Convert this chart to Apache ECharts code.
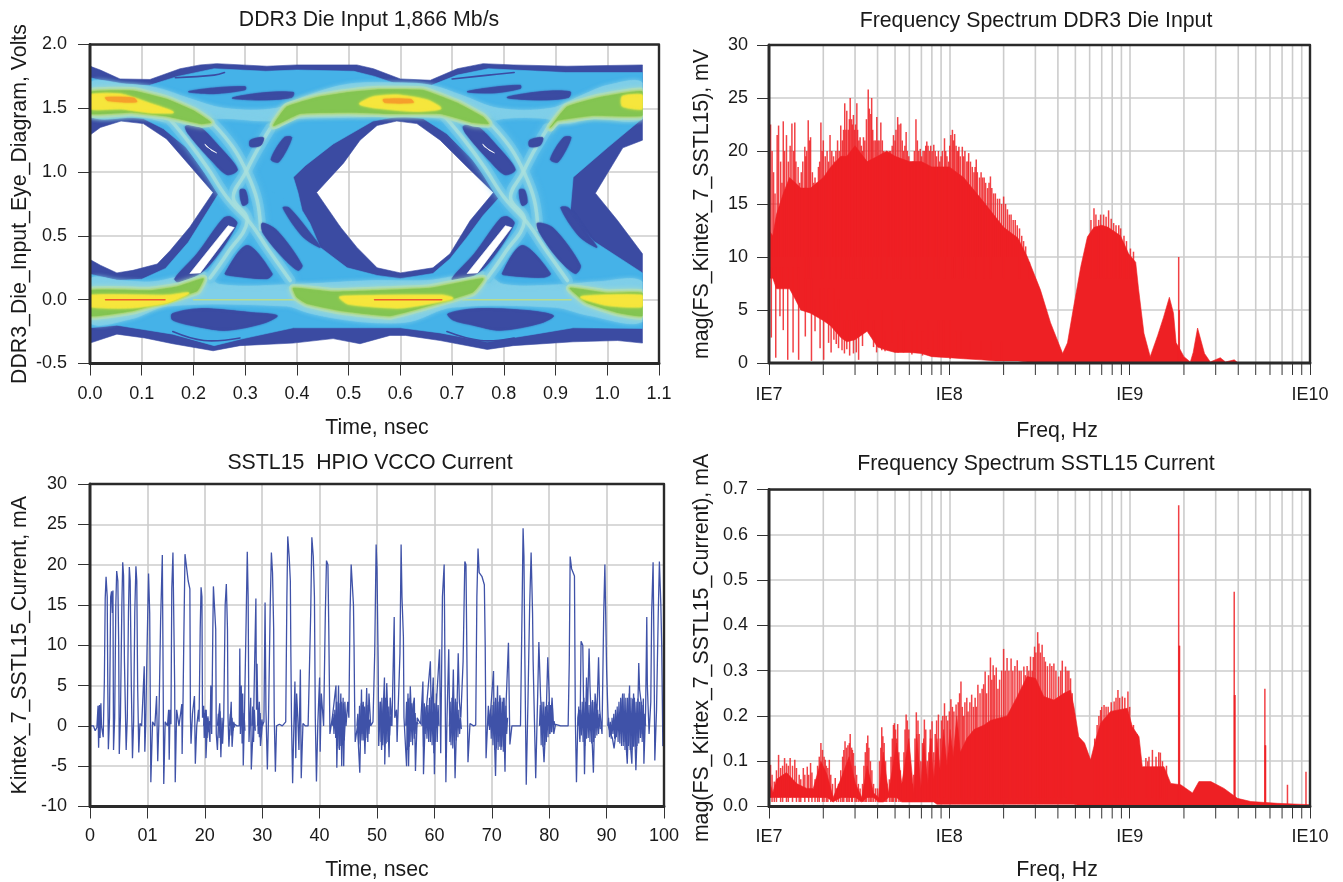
<!DOCTYPE html>
<html><head><meta charset="utf-8">
<style>html,body{margin:0;padding:0;background:#fff}#c{width:1343px;height:882px}</style>
<script src="https://cdn.jsdelivr.net/npm/echarts@6/dist/echarts.min.js"></script>
</head><body><div id="c"></div>
<script>
// ---------- tick labels ----------
const eyeTimeTicks=['0.0','0.1','0.2','0.3','0.4','0.5','0.6','0.7','0.8','0.9','1.0','1.1'];
const traceTimeTicks=['0','01','20','30','40','50','60','70','80','90','100'];
const decadeLabels={7:'IE7',8:'IE8',9:'IE9',10:'IE10'};
const minorFreqHz=[2e7,3e7,4e7,5e7,6e7,7e7,8e7,9e7,2e8,3e8,4e8,5e8,6e8,7e8,8e8,9e8,2e9,3e9,4e9,5e9,6e9,7e9,8e9,9e9];

// ---------- eye diagram regions: [time ns, volts] ----------
const eyeDarkOuter=[[0,1.83],[.02,1.8],[.058,1.73],[.116,1.726],[.174,1.81],[.213,1.84],[.245,1.85],[.342,1.83],[.40,1.84],[.516,1.84],[.548,1.81],[.6,1.73],[.658,1.72],[.71,1.81],[.76,1.85],[.818,1.84],[.922,1.83],[1.068,1.84],[1.068,1.25],[1.03,1.19],[.977,.835],[1.02,.62],[1.068,.36],[1.068,-.34],[1.02,-.32],[.934,-.33],[.818,-.36],[.768,-.39],[.677,-.32],[.61,-.28],[.58,-.28],[.522,-.345],[.47,-.305],[.393,-.34],[.29,-.36],[.238,-.40],[.16,-.345],[.106,-.30],[.052,-.27],[0,-.34],[0,.315],[.02,.27],[.052,.21],[.083,.23],[.13,.28],[.155,.385],[.193,.57],[.238,.84],[.193,1.05],[.148,1.26],[.103,1.38],[.06,1.40],[.02,1.35],[0,1.29]];
const eyeCenterHole=[[.438,.84],[.49,1.07],[.522,1.25],[.555,1.365],[.593,1.40],[.632,1.38],[.677,1.25],[.729,1.04],[.78,.84],[.735,.62],[.696,.36],[.663,.25],[.6,.21],[.555,.25],[.516,.41],[.484,.57]];
const eyeCyanOuter=[[0,1.74],[.06,1.68],[.115,1.68],[.17,1.75],[.24,1.81],[.34,1.79],[.40,1.80],[.51,1.79],[.55,1.75],[.6,1.68],[.66,1.68],[.71,1.76],[.77,1.81],[.82,1.80],[.92,1.78],[1.068,1.78],[1.068,1.42],[1.0,1.19],[.934,.96],[.928,.675],[.973,.46],[1.068,.21],[1.068,-.225],[.934,-.22],[.86,-.27],[.768,-.33],[.677,-.26],[.6,-.22],[.52,-.22],[.393,-.22],[.29,-.31],[.24,-.36],[.16,-.27],[.052,-.2],[0,-.22],[0,.2],[.052,.15],[.1,.16],[.146,.245],[.19,.45],[.25,.84],[.187,1.19],[.142,1.34],[.103,1.42],[.058,1.44],[0,1.46]];
const eyeCyanHole=[[.402,.84],[.393,.96],[.416,1.05],[.47,1.22],[.547,1.40],[.6,1.44],[.644,1.42],[.69,1.30],[.741,1.09],[.80,.84],[.76,.66],[.729,.49],[.696,.32],[.663,.205],[.6,.165],[.555,.19],[.497,.25],[.445,.41],[.425,.6],[.41,.7]];
const eyeLightTop=[[0,1.70],[.07,1.69],[.13,1.66],[.19,1.58],[.26,1.50],[.36,1.50],[.42,1.60],[.5,1.69],[.6,1.70],[.66,1.68],[.72,1.60],[.79,1.50],[.89,1.50],[.95,1.6],[1.0,1.68],[1.068,1.70],[1.068,1.42],[.97,1.42],[.92,1.38],[.88,1.42],[.8,1.42],[.74,1.36],[.68,1.42],[.6,1.44],[.5,1.43],[.4,1.42],[.34,1.40],[.25,1.42],[.18,1.37],[.1,1.43],[0,1.44]];
const eyeLightBottom=[[0,.16],[.06,.15],[.12,.14],[.17,.18],[.22,.22],[.25,.12],[.4,.12],[.45,.13],[.55,.15],[.65,.15],[.7,.18],[.76,.22],[.8,.12],[.92,.12],[.98,.14],[1.068,.14],[1.068,-.17],[.96,-.12],[.9,-.06],[.7,-.06],[.62,-.17],[.55,-.18],[.48,-.15],[.42,-.1],[.38,-.05],[.15,-.05],[.08,-.15],[0,-.18]];
const ridgeA=[[.149,1.44],[.188,1.25],[.226,1.04],[.265,.80],[.31,.6],[.342,.41],[.387,.15]];
const ridgeB=[[.238,1.38],[.277,1.19],[.304,.99],[.323,.78],[.33,.55]];
const ridgeC=[[.348,1.34],[.323,1.17],[.3,.99],[.277,.8],[.304,.62],[.265,.36],[.232,.17]];
const ridgeD=[[.685,1.44],[.724,1.25],[.762,1.04],[.801,.80],[.846,.6],[.878,.41],[.923,.15]];
const ridgeE=[[.774,1.38],[.813,1.19],[.84,.99],[.859,.78],[.866,.55]];
const ridgeF=[[.884,1.34],[.859,1.17],[.836,.99],[.813,.8],[.84,.62],[.801,.36],[.768,.17]];
const islandTopA=[[.19,1.63],[.24,1.66],[.30,1.67],[.30,1.645],[.24,1.615]];
const islandTopB=[[.275,1.58],[.33,1.62],[.393,1.625],[.39,1.585],[.33,1.565]];
const islandTopC=[[.729,1.63],[.78,1.665],[.832,1.68],[.832,1.655],[.78,1.62]];
const islandTopD=[[.806,1.585],[.87,1.63],[.928,1.63],[.925,1.585],[.87,1.565]];
const islandDiagA=[[.185,1.36],[.21,1.36],[.25,1.2],[.285,1.02],[.265,.98],[.235,1.09],[.19,1.3]];
const islandDiagB=[[.722,1.36],[.748,1.36],[.788,1.2],[.822,1.02],[.802,.98],[.772,1.09],[.727,1.3]];
const islandSlitA=[[.164,.165],[.207,.36],[.257,.635],[.271,.65],[.284,.595],[.226,.25],[.174,.135]];
const islandSlitB=[[.70,.165],[.743,.36],[.793,.635],[.807,.65],[.82,.595],[.762,.25],[.71,.135]];
const islandTriA=[[.261,.205],[.304,.425],[.352,.205],[.342,.165],[.27,.19]];
const islandTriB=[[.797,.205],[.836,.425],[.89,.205],[.876,.175],[.81,.19]];
const islandLowerA=[[.333,.6],[.362,.54],[.41,.27],[.402,.23],[.373,.33],[.335,.52]];
const islandLowerB=[[.865,.6],[.896,.56],[.948,.27],[.938,.205],[.903,.33],[.87,.52]];
const islandBelowA=[[.159,-.11],[.213,-.07],[.31,-.10],[.362,-.125],[.335,-.185],[.265,-.24],[.213,-.215],[.16,-.16]];
const islandBelowB=[[.692,-.11],[.748,-.07],[.845,-.085],[.896,-.125],[.87,-.185],[.793,-.24],[.741,-.2],[.702,-.16]];
const islandCrossA=[[.35,1.1],[.375,1.27],[.39,1.27],[.365,1.08]];
const islandCrossB=[[.89,1.1],[.915,1.27],[.93,1.27],[.905,1.08]];
const islandSideA=[[.373,.72],[.385,.72],[.43,.5],[.445,.41],[.41,.5]];
const islandSideB=[[.91,.72],[.925,.72],[.965,.5],[.98,.41],[.945,.5]];
const blobA=[[.29,.86],[.30,.86],[.305,.76],[.295,.74]];
const blobB=[[.83,.86],[.84,.86],[.845,.76],[.835,.74]];
const blobC=[[.31,1.25],[.335,1.27],[.33,1.21],[.31,1.2]];
const blobD=[[.85,1.25],[.875,1.27],[.87,1.21],[.85,1.2]];
const greenTopA=[[0,1.625],[.083,1.635],[.148,1.57],[.2,1.48],[.233,1.39],[.215,1.38],[.148,1.44],[.083,1.47],[0,1.46]];
const greenTopB=[[.355,1.365],[.38,1.51],[.44,1.585],[.503,1.625],[.56,1.645],[.644,1.64],[.71,1.54],[.76,1.43],[.77,1.38],[.74,1.39],[.677,1.46],[.58,1.46],[.5,1.47],[.406,1.46]];
const greenTopC=[[.89,1.35],[.922,1.51],[.986,1.585],[1.068,1.63],[1.068,1.445],[.973,1.445],[.903,1.405]];
const greenLowA=[[0,.07],[.116,.07],[.168,.1],[.219,.165],[.207,.07],[.148,-.006],[.083,-.085],[0,-.125]];
const greenLowB=[[.393,.09],[.47,.06],[.55,.07],[.658,.09],[.76,.165],[.74,.06],[.677,-.02],[.58,-.125],[.484,-.085],[.42,-.03],[.4,.02]];
const greenLowC=[[.928,.09],[1.0,.05],[1.068,.05],[1.068,-.125],[1.02,-.1],[.96,-.02]];
const yellowTopA=[[0,1.60],[.06,1.606],[.115,1.535],[.16,1.47],[.115,1.47],[.06,1.5],[0,1.5]];
const yellowTopB=[[.522,1.535],[.547,1.585],[.593,1.6],[.652,1.56],[.677,1.5],[.632,1.48],[.547,1.51]];
const yellowTopC=[[1.03,1.59],[1.068,1.6],[1.068,1.5],[1.03,1.52]];
const yellowLowA=[[0,.03],[.15,.03],[.19,.05],[.15,-.02],[.08,-.06],[0,-.05]];
const yellowLowB=[[.484,.02],[.6,.03],[.68,.03],[.7,.01],[.6,-.06],[.5,-.03]];
const yellowLowC=[[.95,.02],[1.068,.03],[1.068,-.05],[1.0,-.04]];
const orangeTopA=[[.03,1.585],[.085,1.58],[.09,1.55],[.035,1.56]];
const orangeTopB=[[.567,1.57],[.62,1.57],[.625,1.545],[.57,1.545]];
const redLineA=[[.03,0],[.145,0]];
const redLineB=[[.55,0],[.68,0]];
const faintLineA=[[.2,0],[.4,0]];
const faintLineB=[[.72,0],[.93,0]];
const streakA=[[.16,-.25],[.22,-.32],[.29,-.3]];
const streakB=[[.69,-.25],[.755,-.32],[.82,-.3]];
const streakC=[[.165,1.74],[.24,1.76],[.26,1.78]];
const streakD=[[.7,1.73],[.77,1.76],[.82,1.78]];
const slitA=[[.193,.205],[.213,.21],[.279,.565],[.267,.58]];
const slitB=[[.729,.205],[.749,.21],[.815,.565],[.803,.58]];
const slitC=[[.225,1.2],[.245,1.15],[.235,1.17],[.222,1.22]];
const slitD=[[.762,1.2],[.782,1.15],[.772,1.17],[.759,1.22]];

// ---------- current trace: [time ns, mA] ----------
const currentTrace=[[0,0],[.6,0],[.9,-.6],[1.2,-.2],[1.4,2.5],[1.5,-2.7],[1.65,2.6],[1.75,-1.5],[1.9,2.8],[2,0],[2.3,-1.4],[2.5,5.5],[2.65,15.8],[2.8,18.5],[3,16],[3.1,5],[3.2,-2.9],[3.4,1],[3.6,16],[3.75,16.7],[3.9,14],[4,16.8],[4.1,-3],[4.3,1],[4.5,15],[4.65,19.2],[4.85,18],[5,10],[5.1,-3.5],[5.3,1],[5.55,15],[5.7,20.3],[5.85,18.6],[6,8],[6.3,-3],[6.5,1],[6.7,14],[6.85,19.7],[7,18],[7.2,5],[7.4,-4],[7.6,.5],[7.8,14],[8,19.8],[8.15,18],[8.3,5],[8.5,-3.3],[8.7,.3],[9,0],[9.3,0],[9.45,7.4],[9.55,-3.2],[9.7,0],[9.95,10],[10.2,18.9],[10.4,14],[10.6,-7],[10.9,.5],[11.3,0],[11.6,3.7],[11.8,-4.4],[12,.3],[12.3,13],[12.6,21.2],[12.75,5],[12.85,-7.2],[13.1,.5],[13.5,0],[13.7,2],[13.8,-4.2],[13.95,2],[14.1,.2],[14.25,17],[14.45,21.5],[14.7,21.5],[14.75,5],[14.85,-7],[15.1,2],[15.5,0],[15.8,.2],[16,2.7],[16.05,-3.5],[16.2,2.7],[16.35,11],[16.55,21.3],[16.85,21.3],[17.1,18],[17.4,17],[17.5,1],[17.6,-2.2],[17.85,1.5],[18.2,3.7],[18.35,-4.7],[18.6,0],[18.9,2],[19,.5],[19.2,12],[19.35,17.2],[19.5,16],[19.6,1],[19.8,2.5],[19.9,-1.5],[20.1,2],[20.2,-4],[20.5,1],[20.9,-2],[21.05,5],[21.2,-1],[21.4,12],[21.5,17.3],[21.8,17.3],[21.9,12],[22,-1],[22.2,-3],[22.4,1],[22.6,2.8],[22.8,-3.9],[23,1],[23.1,-2.2],[23.3,1],[23.55,15],[23.75,17.6],[23.95,12],[24.05,1],[24.2,-2.6],[24.6,3],[24.75,-2.6],[25,.3],[25.3,.2],[25.6,0],[26,0],[26.1,9.6],[26.2,-1],[26.35,5],[26.5,-2.2],[26.6,4],[26.7,-4.9],[26.9,1],[27.2,13],[27.4,21.6],[27.55,16],[27.7,-2],[28,3.5],[28.1,-5.4],[28.5,1],[28.9,15.8],[29,2],[29.1,7.7],[29.3,-1],[29.5,3],[29.7,-2.5],[30,0],[30.3,.5],[30.5,15.3],[30.65,2],[30.9,-5.4],[31.1,1],[31.4,15],[31.6,21.5],[31.8,19],[32,12],[32.1,1],[32.3,-5.7],[32.5,0],[33,.2],[33.5,0],[34.1,.5],[34.3,16],[34.45,23.5],[34.7,21],[34.9,18],[35,8.5],[35.1,1],[35.3,-7.1],[35.55,1],[35.7,5.5],[35.85,-4],[36,4],[36.2,1],[36.4,-3],[36.65,7],[36.8,-6.5],[37.1,.3],[37.5,0],[38,0],[38.3,0],[38.45,14],[38.65,23.4],[38.9,21],[39.1,16],[39.25,1],[39.45,-6.9],[39.7,.5],[40,6],[40.1,-3.2],[40.3,4],[40.45,2.5],[40.7,0],[41,14],[41.2,20.5],[41.45,20],[41.6,12],[41.8,-1],[42.1,.5],[42.3,1.5],[42.85,5],[43,-5.2],[43.3,5],[43.45,-3],[43.7,4],[43.85,-5],[44.1,3.5],[44.2,-5],[44.4,3],[44.6,0],[44.9,3],[45.1,1],[45.3,14],[45.5,20],[45.8,20],[45.9,15],[46,10],[46.1,3],[46.2,-2],[46.6,0],[47,-5.8],[47.3,4.5],[47.4,-1],[47.6,3],[47.9,-3.5],[48.2,4.7],[48.4,-2],[48.6,4],[48.9,0],[49.3,.5],[49.6,9],[49.85,22.5],[50,19.5],[50.2,8],[50.3,-2.5],[50.6,3],[50.8,-3],[51.3,6],[51.35,-4.8],[51.7,5.3],[52.1,-3.9],[52.3,3.5],[52.6,0],[52.9,0],[53,13.5],[53.1,1],[53.4,2],[53.5,-2],[54,9],[54.2,22.5],[54.35,16],[54.6,11],[54.7,1],[55.15,-5],[55.4,4],[55.5,-5],[55.8,4.9],[56,1],[56.5,3.5],[56.7,-5.6],[57,1],[57.6,.2],[58,5.5],[58.1,-6],[58.4,.5],[59.3,8],[59.45,1],[59.8,6],[60,-6],[60.2,1],[60.9,9.5],[61.1,-3.4],[61.4,16],[61.7,20],[61.9,20],[62,-7],[62.2,1],[62.5,9.5],[62.7,-2],[63.1,1],[63.3,7],[63.6,-6.5],[63.9,1],[64.15,9],[64.35,3],[64.6,1],[65,8],[65.3,20.4],[65.5,20],[65.85,-4.5],[66.2,.3],[66.8,0],[67.2,.1],[67.4,16],[67.6,22],[67.8,19],[68.3,18.5],[68.7,17.5],[68.85,10],[69,-4],[69.4,2.5],[69.6,0],[70.3,6.8],[70.4,0],[70.65,-6.2],[71,5],[71.1,-2],[71.4,3.8],[71.6,-3],[72,3.5],[72.3,-5.7],[72.5,3],[72.9,10.3],[73.15,-2.3],[73.5,0],[74,0],[75,0],[75.3,16],[75.45,24.5],[75.6,21],[75.75,9],[76,-7.3],[76.3,3],[76.6,15],[76.85,21.5],[77.1,14],[77.2,8],[77.65,-6.5],[78,4],[78.2,10.4],[78.5,3.5],[79.1,-4.5],[79.5,2],[79.75,8.5],[80,4],[80.1,-1],[80.5,3.5],[80.8,-1],[81.1,.2],[82,0],[83.3,0],[83.5,8],[83.65,21],[83.9,19.5],[84.4,18.6],[84.55,1],[84.75,-7],[85,1],[85.2,2],[85.35,-2],[85.55,10.5],[85.85,10],[86.15,-6],[86.5,6],[86.65,1],[86.95,9.6],[87.1,5],[87.7,-5.8],[88,4],[88.3,1],[88.6,8.5],[88.8,2],[89.2,-1],[89.5,14],[89.7,20],[89.9,20],[90,7],[90.3,0],[90.7,-1],[91,-1.5],[91.3,-2.8],[91.6,-1],[92,1.5],[92.3,-1],[92.8,4],[93,-2],[93.1,1],[93.6,-4.7],[94,5],[94.1,-2],[94.4,-4.7],[94.7,4],[94.95,4.1],[95.1,-5.5],[95.4,.5],[95.6,7.8],[95.75,4.5],[96,3],[96.2,-1],[96.4,3.4],[96.5,-4.7],[96.8,2],[97,13.5],[97.1,5],[97.4,-1],[97.7,3],[97.85,14],[98.1,20.3],[98.25,10],[98.4,-4.3],[98.7,2],[99,14],[99.2,20.4],[99.45,15],[99.6,10],[99.8,-2.5],[100,-2.3]];
// fast ringing around zero between pulses; null separates bursts
const currentRipple=[[19.8,0],[19.95,1.6],[20.1,-1],[20.25,2],[20.4,-1.5],[20.55,1.2],[20.7,-.8],[20.85,.6],[20.9,null],[22.2,0],[22.35,1.5],[22.5,-1.5],[22.65,1.8],[22.8,-.6],[22.9,null],[24.3,0],[24.45,1.5],[24.6,-1.2],[24.75,1],[24.9,-.6],[25.05,.5],[25.2,-.2],[25.3,null],[26.4,0],[26.55,2.2],[26.7,-1.6],[26.85,1.6],[27,-.6],[27.1,null],[28.2,0],[28.35,2.4],[28.5,-2],[28.65,2],[28.8,-.6],[28.9,null],[29.2,0],[29.35,2.2],[29.5,-1.4],[29.65,1.6],[29.8,-1],[29.95,.8],[30.1,0],[30.2,null],[42.2,0],[42.35,1.5],[42.5,-1],[42.65,2],[42.8,-1.5],[42.95,3],[43.1,-2.5],[43.25,3],[43.4,-2.8],[43.55,2.8],[43.7,-2.5],[43.85,3],[44,-2.4],[44.15,2.8],[44.3,-1.8],[44.5,1],[44.6,null],[46.5,0],[46.65,1.5],[46.8,-2.2],[46.95,2.5],[47.1,-2.4],[47.25,2.8],[47.4,-1.8],[47.55,2.6],[47.7,-1.8],[47.85,2.4],[48,-1.8],[48.15,3],[48.3,-1.5],[48.45,2.6],[48.6,-1],[48.75,.8],[48.9,null],[50.4,0],[50.55,3],[50.7,-2],[50.85,3.5],[51,-2.4],[51.15,3],[51.3,-2.6],[51.45,3.5],[51.6,-2.2],[51.75,3],[51.9,-2],[52.05,2.4],[52.2,-1.2],[52.35,1.2],[52.5,0],[52.6,null],[55,0],[55.15,3],[55.3,-3],[55.45,3.4],[55.6,-2.6],[55.75,3.5],[55.9,-2],[56.05,2.8],[56.2,-2.4],[56.35,3],[56.5,-1.6],[56.65,1.6],[56.8,-1],[56.95,.5],[57.2,.2],[57.3,null],[57.8,0],[57.95,3],[58.1,-2.6],[58.25,2.8],[58.4,-1],[58.55,2.4],[58.7,-1.6],[58.85,2.6],[59,-2],[59.15,3.5],[59.3,-2],[59.45,3.2],[59.6,-2.4],[59.75,3.6],[59.9,-3.4],[60.05,2.8],[60.2,-2],[60.35,4],[60.5,-2],[60.65,2.6],[60.8,0],[60.9,null],[62.6,0],[62.75,3],[62.9,-2.4],[63.05,3.5],[63.2,-2.8],[63.35,3],[63.5,-2.6],[63.65,3.4],[63.8,-1.8],[63.95,3],[64.1,-1.4],[64.25,2],[64.4,-1],[64.55,1],[64.7,-.4],[64.8,null],[69.3,0],[69.45,1.5],[69.6,-.5],[69.75,2],[69.9,-1.6],[70.05,2.6],[70.2,-2.4],[70.35,3],[70.5,-3],[70.65,3.5],[70.8,-2.8],[70.95,3.4],[71.1,-3],[71.25,3],[71.4,-2.6],[71.55,3.5],[71.7,-2.6],[71.85,3],[72,-3.2],[72.15,3.5],[72.3,-3],[72.45,2.5],[72.6,-1],[72.75,1],[72.85,null],[78.3,0],[78.45,2.6],[78.6,-2.4],[78.75,3],[78.9,-2.6],[79.05,3],[79.2,-2.4],[79.35,2.4],[79.5,-2],[79.65,2.6],[79.8,-1.4],[79.95,3],[80.1,-1],[80.25,2.6],[80.4,-.8],[80.55,2.6],[80.7,-.8],[80.85,.6],[81,.1],[81.1,null],[85,0],[85.15,2.4],[85.3,-1.6],[85.45,2],[85.6,-1.2],[85.75,3],[85.9,-2],[86.05,3.5],[86.2,-2.5],[86.35,3],[86.5,-1.6],[86.65,3],[86.8,-1.5],[86.95,2.6],[87.1,-2],[87.25,3],[87.4,-2.2],[87.55,3.2],[87.7,-2],[87.85,3],[88,-1.5],[88.15,2.6],[88.3,-1.2],[88.45,2],[88.6,-1],[88.75,1.5],[88.9,-.4],[89,null],[90.2,0],[90.35,1],[90.5,-1.4],[90.65,.5],[90.8,-1.6],[90.95,1],[91.1,-1],[91.25,1.5],[91.4,-1.6],[91.55,2],[91.7,-1.4],[91.85,2.4],[92,-2],[92.15,3],[92.3,-2.2],[92.45,3.5],[92.6,-2.5],[92.75,3.4],[92.9,-2.5],[93.05,4],[93.2,-3],[93.35,3.5],[93.5,-3],[93.65,3.5],[93.8,-2.5],[93.95,4],[94.1,-3],[94.25,3.5],[94.4,-3],[94.55,3.4],[94.7,-2.6],[94.85,3.5],[95,-2.6],[95.15,3],[95.3,-2.5],[95.45,3.4],[95.6,-2.2],[95.75,3],[95.9,-1.5],[96.05,3],[96.2,-2],[96.35,2.6],[96.5,-1.5],[96.65,1.5],[96.8,0]];

// ---------- voltage spectrum (MHz, mV) ----------
const dieBodyMHz=[10,10.5,11,12,13,14,15,17,20,22,25,27,30,35,40,45,50,60,70,80,100,120,150,180,200,240,271,320,364,425,452,489,536,583,634,700,760,890,987,1080,1120,1200,1300,1430,1540,1660,1750,1810,1900,2000,2170,2250,2380,2600,2800,3180,3400,3800,4000];
const dieBodyHigh=[12.5,12,14,16,17.5,17,16.5,16.5,17.5,18.5,19.5,19.5,20.5,19,19.5,20,19.5,19,19,18.5,18.5,17.5,15.5,13.8,12.8,11.8,10,6.9,3.8,.9,1.9,5.3,9.1,11.9,12.8,13,12.8,12,10.3,9.5,7,2.8,.6,2.6,4.3,6.2,4.7,1.9,1.3,.6,.1,1,3.3,.9,.1,.5,.1,.3,0];
const dieBodyLow=[8,8,7,7,7,6,5,4.7,4,3.5,2.4,2,2.2,3,1.5,1.2,1,1,.9,.6,.5,.4,.3,.2,.2,.2,.1,.1,.1,0,0,0,0,0,0,0,0,0,0,0,0,0,0,0,0,0,0,0,0,0,0,0,0,0,0,0,0,0,0];
// [MHz, low, high] peaks standing above the solid body
const dieSpikes=[[10.2,10,22.5],[10.4,10,20],[11.1,10,21.5],[11.3,10,22.4],[12,10,22.8],[12.5,10,21.5],[13.4,10,22.6],[13.9,10,22.7],[14.5,8,18.5],[15.8,8,20.4],[16.5,8,22.9],[17,8,21.3],[19.4,8,22.7],[20,8,21],[21.8,8,21.5],[23.5,8,20],[25,8,22.4],[26.3,8,24.5],[27,8,23.8],[28.2,8,25],[29.4,8,23.4],[30.7,8,24.5],[32,8,21.3],[33.4,8,21.3],[35.5,8,25.8],[37.1,8,25],[39.6,8,23.2],[41.7,8,22.7],[45,8,20],[49,8,21.5],[51.7,8,23.2],[53.8,8,22.6],[57.6,8,21.8],[60.7,8,18.8],[65.3,8,23],[69,8,20.2],[75,8,20.9],[82,8,20.6],[87,8,20],[94,8,21.2],[104,8,22],[107,8,21.6],[113,8,20.4],[118,8,20.4],[128,8,19.8],[141,8,19.2],[156,8,17.5],[169,8,17.6],[200,8,15.7],[245,8,12.7],[634,8,14.6],[673,8,13.5],[717,8,14],[764,8,14.4],[815,8,13.2],[891,8,12.7],[1870,0,10],[1885,0,5]];
// in-between peaks, read along the top of the spectrum
const dieFill=[[10.6,10,18],[10.8,10,16],[11.6,10,19],[11.8,10,17],[12.2,10,20],[12.8,10,19],[13.1,10,20.5],[13.7,10,20],[14.1,10,19],[14.8,10,17],[15.1,10,18],[15.4,10,19],[16,10,19.5],[16.2,10,20],[16.8,10,21],[17.4,10,18],[17.7,10,17],[18,10,17.5],[18.4,10,17],[18.8,10,18.5],[19.1,10,19],[19.7,10,20],[20.5,10,19.5],[21,10,20],[21.4,10,19],[22.3,10,20],[22.8,10,19.5],[23.1,10,19],[24,10,21],[24.5,10,20],[25.5,10,21],[25.9,10,22],[26.7,10,22],[27.5,10,22],[27.9,10,23],[28.7,10,23],[29,10,22.5],[29.8,10,22],[30.2,10,22.5],[31,10,22],[31.5,10,21],[32.5,10,20.5],[33,10,20],[34,10,21],[34.7,10,23],[36,10,24],[36.7,10,23.5],[37.6,10,22],[38.2,10,21],[38.9,10,21],[40.2,10,21],[40.8,10,21],[42.5,10,21],[43.3,10,20],[44,10,19.5],[45.8,10,19.5],[46.5,10,20],[47.3,10,20],[48.2,10,20.5],[50,10,21],[50.6,10,22],[52.6,10,22.5],[54.8,10,21],[55.8,10,20],[56.7,10,20.5],[58.5,10,20],[59.6,10,19.5],[61.8,10,18.5],[63,10,19],[64,10,20],[66.5,10,21],[67.7,10,20],[70.2,10,19.5],[71.5,10,20],[72.8,10,20],[74,10,20.5],[76.2,10,20.5],[77.5,10,20],[78.8,10,20.5],[80.3,10,20],[83.5,10,20],[85,10,19.5],[88.5,10,19],[90,10,19.5],[91.5,10,20],[95.5,10,20],[97,10,19.5],[99,10,19],[100.5,10,20.5],[102,10,21.5],[105.5,10,21],[109,10,20.5],[110.5,10,20],[112,10,20],[115,10,19.5],[120,10,19.5],[122,10,20],[125,10,19],[127,10,19],[131,10,19],[134,10,18.5],[137,10,18],[139,10,18.5],[143,10,18],[147,10,17.5],[150,10,18],[153,10,17.5],[159,10,17],[163,10,16.5],[166,10,17],[172,10,16.5],[176,10,16],[180,10,16],[185,10,15.5],[190,10,15.5],[195,10,15],[205,10,15],[210,10,14.5],[215,10,14],[220,10,14],[226,10,13.5],[232,10,13.5],[238,10,13],[252,10,12],[258,10,11.5],[265,10,11],[278,8,9.5],[610,8,13.5],[650,8,14],[690,8,14],[740,8,13.8],[790,8,13.6],[840,8,13],[870,8,13],[930,8,12],[960,8,11.5],[1010,8,10.8],[1050,8,10.5]];
// dips reaching below the solid body
const dieDips=[[10.3,2.4,9],[10.9,.5,9],[11.5,4.4,9],[12,3.1,9],[12.7,.3,9],[13.6,1,9],[14.6,.3,9],[15.9,2.5,8],[17.2,.2,8],[18,3,6],[19.2,1.4,7],[20.1,.3,7],[21.4,1.9,7],[22.1,1,5],[22.9,2.2,7],[23.6,1.8,5],[24.3,1.4,6],[25.4,1.2,5],[26.2,.9,4],[27,1.3,5],[28,.7,4],[29.4,.9,5],[30.5,1,4],[31.4,.3,5],[33,1.6,4],[35.5,3.1,6],[38,1.5,4],[39.5,1,3],[42.2,1.2,5],[44,1.1,3],[48,1.9,5],[52,1,3],[55.7,1,4],[57.6,1.2,5],[62,.8,3],[66,1,4],[71,.7,3],[76,1.4,4],[81,.7,3],[87,1.2,4],[93,.9,4],[101,.4,4],[109,.6,3],[116,.8,3],[130,.4,2],[150,.4,2],[170,.3,2],[195,.2,2]];

// ---------- current spectrum (MHz, mA) ----------
const sstlBodyMHz=[10,10.5,11,12.5,14.3,16.2,17.6,19.4,21,22.7,25,27.8,30.2,32.7,35,38,40.5,43,46,51,54.5,59.6,63.5,66,69.5,72,76,78.4,82,85.4,89,93,97,101,105,110,115,125,137,156,169,209,236,270,301,334,380,432,470,491,522,562,607,647,690,784,970,1035,1127,1175,1309,1550,1690,1920,2230,2420,2820,3335,3960,4700,6610,10000];
const sstlBodyHigh=[.06,.03,.06,.075,.05,.04,.04,.10,.07,.02,.06,.11,.05,.02,.09,.03,.02,.12,.03,.14,.05,.15,.03,.16,.04,.15,.05,.15,.06,.15,.08,.17,.09,.17,.11,.2,.12,.15,.17,.18,.19,.2,.24,.287,.283,.243,.235,.25,.257,.22,.154,.14,.103,.147,.184,.21,.217,.176,.154,.088,.088,.088,.051,.048,.03,.055,.055,.04,.018,.011,.007,.004];
const sstlBodyLow=[.02,.02,.02,.02,.02,.02,.02,.02,.02,.01,.02,.02,.02,.01,.02,.02,.01,.01,.02,.02,.01,.01,.01,.01,.01,.01,.01,.01,.01,.005,.005,.005,.005,.005,.005,.005,.005,.005,.005,.005,.005,.005,.005,.005,.005,.005,.005,.005,.005,.005,.003,.003,.003,.003,.003,.003,.002,.002,.002,.002,.002,.002,.001,.001,.001,.001,.001,0,0,0,0,0];
const sstlSpikes=[[10.2,.02,.092],[11.3,.02,.114],[12.2,.02,.107],[13.1,.02,.107],[13.9,.02,.103],[15.5,.02,.085],[16.3,.02,.088],[17,.02,.096],[19.4,.02,.14],[20.5,.02,.103],[21.6,.02,.103],[23.3,.02,.063],[26.4,.02,.144],[28.2,.02,.16],[29.4,.02,.118],[35.3,.02,.157],[42.2,.02,.175],[49.6,.02,.184],[51.7,.02,.182],[57.6,.02,.203],[65.6,.02,.208],[72.7,.02,.192],[80.2,.02,.188],[87,.02,.203],[94,.02,.228],[102,.02,.237],[109,.02,.225],[116,.02,.276],[125,.02,.24],[133,.02,.247],[144,.02,.269],[158,.02,.298],[169,.02,.329],[175,.02,.312],[182,.02,.307],[200,.02,.348],[209,.02,.328],[220,.02,.327],[238,.02,.323],[259,.02,.309],[282,.02,.331],[297,.02,.353],[309,.02,.385],[327,.02,.357],[341,.02,.32],[361,.02,.316],[380,.02,.316],[404,.02,.287],[423,.02,.322],[441,.02,.309],[470,.02,.283],[690,.02,.213],[721,.02,.224],[820,.02,.232],[861,.02,.257],[911,.02,.243],[978,.02,.254],[1230,.02,.107],[1337,.02,.125],[1480,.02,.119],[1870,0,.665],[1880,0,.355],[1890,0,.355],[3800,0,.474],[3815,0,.246],[3835,0,.246],[5620,0,.26],[5640,0,.135],[5670,0,.135],[7500,0,.048],[9500,0,.077]];
const sstlFill=[[10.4,.01,.07],[10.7,.01,.055],[11,.01,.08],[11.6,.01,.085],[11.9,.01,.09],[12.5,.01,.095],[12.8,.01,.09],[13.5,.01,.09],[14.2,.01,.085],[14.7,.01,.07],[15,.01,.06],[15.8,.01,.07],[16.6,.01,.07],[17.3,.01,.075],[18,.01,.06],[18.6,.01,.09],[19,.01,.11],[19.8,.01,.125],[20.2,.01,.11],[20.8,.01,.09],[21.2,.01,.085],[22,.01,.07],[22.5,.01,.05],[23.7,.01,.04],[24.3,.01,.05],[25,.01,.08],[25.6,.01,.11],[26,.01,.125],[26.9,.01,.13],[27.4,.01,.135],[27.9,.01,.14],[28.7,.01,.13],[29,.01,.125],[30,.01,.09],[30.6,.01,.07],[31.3,.01,.05],[32,.01,.04],[33,.01,.05],[33.6,.01,.09],[34.2,.01,.12],[34.8,.01,.14],[35.8,.01,.13],[36.5,.01,.10],[37.2,.01,.08],[38,.01,.05],[39,.01,.04],[40,.01,.04],[41,.01,.1],[41.7,.01,.13],[42.8,.01,.155],[43.5,.01,.14],[44.3,.01,.1],[45,.01,.05],[46.5,.01,.06],[47.5,.01,.11],[48.3,.01,.15],[49,.01,.18],[50.3,.01,.17],[51,.01,.15],[52.5,.01,.12],[53.5,.01,.08],[55,.01,.05],[56,.01,.12],[56.8,.01,.17],[58.5,.01,.19],[59.6,.01,.17],[60.5,.01,.1],[62,.01,.05],[63.5,.01,.07],[64.5,.01,.15],[67,.01,.19],[68,.01,.16],[69.5,.01,.1],[71,.01,.14],[74,.01,.17],[75.5,.01,.1],[77,.01,.12],[78.4,.01,.17],[79.5,.01,.15],[82,.01,.12],[83.5,.01,.16],[85,.01,.19],[89,.01,.15],[90.5,.01,.19],[92,.01,.2],[96,.01,.2],[98,.01,.19],[100,.01,.21],[104,.01,.22],[106,.01,.21],[112,.01,.23],[114,.01,.25],[118,.01,.22],[120,.01,.2],[122,.01,.23],[127,.01,.21],[130,.01,.23],[136,.01,.22],[139,.01,.24],[141,.01,.22],[148,.01,.25],[152,.01,.26],[155,.01,.27],[161,.01,.25],[165,.01,.29],[172,.01,.28],[178,.01,.29],[186,.01,.26],[190,.01,.28],[195,.01,.3],[204,.01,.3],[214,.01,.3],[225,.01,.3],[231,.01,.31],[244,.01,.3],[250,.01,.3],[264,.01,.29],[270,.01,.31],[276,.01,.3],[288,.01,.3],[292,.01,.33],[302,.01,.34],[314,.01,.36],[320,.01,.34],[335,.01,.33],[350,.01,.31],[370,.01,.31],[390,.01,.3],[415,.01,.3],[450,.01,.3],[460,.01,.3],[480,.01,.25],[640,.01,.15],[660,.01,.18],[675,.01,.2],[700,.01,.22],[740,.01,.22],[760,.01,.22],[790,.01,.23],[840,.01,.24],[880,.01,.24],[940,.01,.24],[1000,.01,.22],[1050,.01,.18],[1100,.01,.16],[1260,.01,.1],[1280,.01,.11],[1400,.01,.11],[1450,.01,.12],[1520,.01,.1],[1600,.01,.09]];

// ---------- helpers ----------
const C={dark:'#3b4ba2',cyan:'#45b2e8',light:'#7fcfe9',pale:'#aee0d8',green:'#84c552',yellow:'#f6e63c',orange:'#f6a02c',red:'#ee2024',white:'#ffffff',blue:'#3f52a8',frame:'#2a2a2a',grid:'#cccccc',text:'#1a1a1a'};
const FONT='"Liberation Sans",Arial,sans-serif';
const keyhole=(outer,hole)=>[...outer,outer[0],...hole.slice().reverse(),hole[hole.length-1],outer[0]];
const eyeClip=api=>{const a=api.coord([0,2]),b=api.coord([1.068,-.5]);return{type:'rect',shape:{x:a[0],y:a[1],width:b[0]-a[0],height:b[1]-a[1]}};};
function polySeries(g,pts,color,z,opt){opt=opt||{};return{type:'custom',xAxisIndex:g,yAxisIndex:g,z,silent:true,animation:false,encode:{x:0,y:1},data:pts,
  renderItem(p,api){if(p.dataIndex!==0)return null;const el={type:'polygon',shape:{points:pts.map(q=>api.coord(q)),smooth:opt.smooth||0},style:{fill:color,stroke:color,lineWidth:opt.width||.6,shadowBlur:opt.blur||0,shadowColor:color,opacity:opt.opacity==null?1:opt.opacity}};if(opt.clip)el.clipPath=eyeClip(api);return el;}};}
function lineSeries(g,pts,color,width,z,opt){opt=opt||{};return{type:'custom',xAxisIndex:g,yAxisIndex:g,z,silent:true,animation:false,encode:{x:0,y:1},data:pts,
  renderItem(p,api){if(p.dataIndex!==0)return null;return{type:'polyline',shape:{points:pts.map(q=>api.coord(q)),smooth:opt.smooth||0},style:{fill:null,stroke:color,lineWidth:width,lineJoin:'round',lineCap:'round',opacity:opt.opacity==null?1:opt.opacity,shadowBlur:opt.blur||0,shadowColor:color}};}};}
function spikeSeries(g,spikes,z){const d=spikes.map(s=>[s[0]*1e6,s[1],s[2]]);return{type:'custom',xAxisIndex:g,yAxisIndex:g,z,silent:true,animation:false,encode:{x:0,y:[1,2]},data:d,
  renderItem(p,api){const a=api.coord([api.value(0),api.value(1)]),b=api.coord([api.value(0),api.value(2)]);
    return{type:'line',shape:{x1:a[0],y1:a[1],x2:b[0],y2:b[1]},style:{stroke:C.red,lineWidth:1.5,opacity:.85}};}};}
function bodySeries(g,f,hi,lo,z){const pts=[...f.map((m,i)=>[m*1e6,hi[i]]),...f.map((m,i)=>[m*1e6,lo[i]]).reverse()];return polySeries(g,pts,C.red,z);}
function minorSeries(g,ymin,ymax){return{type:'custom',xAxisIndex:g,yAxisIndex:g,z:1,silent:true,animation:false,encode:{x:0},data:minorFreqHz.map(f=>[f]),
  renderItem(p,api){const a=api.coord([api.value(0),ymin]),b=api.coord([api.value(0),ymax]);
    return{type:'group',children:[{type:'line',shape:{x1:a[0],y1:a[1],x2:b[0],y2:b[1]},style:{stroke:C.grid,lineWidth:1.6}},
      {type:'line',shape:{x1:a[0],y1:a[1],x2:a[0],y2:a[1]+12},style:{stroke:'#333',lineWidth:1}}]};}};}
function frameSeries(g,x0,x1,y0,y1){return [lineSeries(g,[[x0,y1],[x1,y1],[x1,y0]],C.frame,2.4,20),lineSeries(g,[[x0,y1],[x0,y0],[x1,y0]],C.frame,3,20)];}

const eyeLayers=[[keyhole(eyeDarkOuter,eyeCenterHole),C.dark],[keyhole(eyeCyanOuter,eyeCyanHole),C.cyan]];
const eyeHalos=[eyeLightTop,eyeLightBottom];
const eyeIslands=[islandTopA,islandTopB,islandTopC,islandTopD,islandDiagA,islandDiagB,islandSlitA,islandSlitB,islandTriA,islandTriB,islandLowerA,islandLowerB,islandBelowA,islandBelowB,islandCrossA,islandCrossB,islandSideA,islandSideB,blobA,blobB,blobC,blobD];
const eyeRidges=[ridgeA,ridgeB,ridgeC,ridgeD,ridgeE,ridgeF];
const greens=[greenTopA,greenTopB,greenTopC,greenLowA,greenLowB,greenLowC];
const yellows=[yellowTopA,yellowTopB,yellowTopC,yellowLowA,yellowLowB,yellowLowC];
const oranges=[orangeTopA,orangeTopB];
const slits=[slitA,slitB,slitC,slitD];

const series=[];
eyeLayers.forEach(l=>series.push(polySeries(0,l[0],l[1],3)));
eyeHalos.forEach(l=>series.push(polySeries(0,l,C.light,3,{smooth:.35,blur:4,clip:true})));
eyeRidges.forEach(r=>series.push(lineSeries(0,r,'#6cc6ea',11,3,{smooth:.4,blur:6,opacity:.8})));
eyeRidges.forEach(r=>series.push(lineSeries(0,r,'#a9e0dc',3.5,3,{smooth:.4,blur:4,opacity:.75})));
eyeIslands.forEach(r=>series.push(polySeries(0,r,C.dark,4,{smooth:.3,blur:1.5})));
[streakA,streakB,streakC,streakD].forEach(r=>series.push(lineSeries(0,r,C.dark,1.6,4,{smooth:.4})));
[faintLineA,faintLineB].forEach(r=>series.push(lineSeries(0,r,'#b9dc8c',1.5,4)));
greens.forEach(r=>series.push(polySeries(0,r,'#a9dcc4',5,{smooth:.12,width:8,blur:5,clip:true})));
greens.forEach(r=>series.push(polySeries(0,r,'#b5dc8e',5,{smooth:.12,width:3.5,blur:3,clip:true})));
greens.forEach(r=>series.push(polySeries(0,r,C.green,5,{smooth:.12,width:.6,blur:2,clip:true})));
yellows.forEach(r=>series.push(polySeries(0,r,'#c9de4a',5,{smooth:.2,width:2.5,blur:3,clip:true})));
yellows.forEach(r=>series.push(polySeries(0,r,C.yellow,5,{smooth:.2,blur:2,clip:true})));
oranges.forEach(r=>series.push(polySeries(0,r,C.orange,6,{smooth:.3,blur:2,clip:true})));
[redLineA,redLineB].forEach(r=>series.push(lineSeries(0,r,'#ee5a2a',1.5,6)));
slits.forEach(r=>series.push(polySeries(0,r,C.white,7)));
series.push(...frameSeries(0,0,1.1,-.5,2));

series.push(minorSeries(1,0,30),bodySeries(1,dieBodyMHz,dieBodyHigh,dieBodyLow,3),spikeSeries(1,dieSpikes,4),spikeSeries(1,dieFill,4),spikeSeries(1,dieDips,4),...frameSeries(1,1e7,1e10,0,30));

series.push({type:'line',xAxisIndex:2,yAxisIndex:2,data:currentTrace,symbol:'none',showSymbol:false,silent:true,animation:false,z:3,lineStyle:{color:C.blue,width:1.3}});
series.push({type:'line',xAxisIndex:2,yAxisIndex:2,data:currentRipple,symbol:'none',showSymbol:false,silent:true,animation:false,z:3,connectNulls:false,lineStyle:{color:C.blue,width:1.2}});
series.push(...frameSeries(2,0,100,-10,30));

series.push(minorSeries(3,0,.7),bodySeries(3,sstlBodyMHz,sstlBodyHigh,sstlBodyLow,3),spikeSeries(3,sstlSpikes,4),spikeSeries(3,sstlFill,4),...frameSeries(3,1e7,1e10,0,.7));

const labelBase={fontFamily:FONT,fontSize:18,color:C.text};
const nameBase={fontFamily:FONT,fontSize:21.3,color:C.text};
const titleAt=(text,x,y)=>({text,left:x,top:y,textAlign:'center',textStyle:{...nameBase,fontWeight:'normal'},padding:0});
const splitLine={show:true,lineStyle:{color:C.grid,width:1.6}};
const tick={show:true,length:12,lineStyle:{color:'#333',width:1}};
const axLine={show:true,onZero:false,lineStyle:{color:C.frame,width:2}};
const decadeFmt=v=>decadeLabels[Math.round(Math.log10(v))]||'';
const logX=(g,name,gap,margin)=>({gridIndex:g,type:'log',logBase:10,min:1e7,max:1e10,axisLine:axLine,axisTick:tick,splitLine,minorTick:{show:false},minorSplitLine:{show:false},
  axisLabel:{...labelBase,margin,formatter:decadeFmt,hideOverlap:false,showMinLabel:true,showMaxLabel:true},name,nameLocation:'middle',nameGap:gap,nameTextStyle:{...nameBase,padding:[0,0,0,35]}});
const valY=(g,min,max,interval,dec,name,gap,margin)=>({gridIndex:g,type:'value',min,max,interval,axisLine:axLine,axisTick:tick,splitLine,
  axisLabel:{...labelBase,margin,formatter:v=>v.toFixed(dec),showMinLabel:true,showMaxLabel:true},name,nameLocation:'middle',nameGap:gap,nameTextStyle:nameBase});

const option={animation:false,backgroundColor:'#fff',textStyle:{fontFamily:FONT},
 title:[titleAt('DDR3 Die Input 1,866 Mb/s',369,10),titleAt('Frequency Spectrum DDR3 Die Input',1036,11),titleAt('SSTL15  HPIO VCCO Current',370,453),titleAt('Frequency Spectrum SSTL15 Current',1036,454)],
 grid:[{left:90,top:44.5,width:569,height:319},{left:769,top:45,width:541,height:318},{left:90,top:484,width:574,height:323},{left:769,top:489.5,width:541,height:317.5}].map(g=>({...g,show:true,borderColor:C.frame,borderWidth:0,backgroundColor:'transparent'})),
 xAxis:[
  {gridIndex:0,type:'value',min:0,max:1.1,interval:.1,axisLine:axLine,axisTick:tick,splitLine,axisLabel:{...labelBase,margin:22,formatter:(v)=>eyeTimeTicks[Math.round(v*10)],showMinLabel:true,showMaxLabel:true},name:'Time, nsec',nameLocation:'middle',nameGap:54.5,nameTextStyle:{...nameBase,padding:[0,0,0,5]}},
  logX(1,'Freq, Hz',57.5,23),
  {gridIndex:2,type:'value',min:0,max:100,interval:10,axisLine:axLine,axisTick:tick,splitLine,axisLabel:{...labelBase,margin:21,formatter:(v)=>traceTimeTicks[Math.round(v/10)],showMinLabel:true,showMaxLabel:true},name:'Time, nsec',nameLocation:'middle',nameGap:53.5,nameTextStyle:nameBase},
  logX(3,'Freq, Hz',53.5,22)],
 yAxis:[valY(0,-.5,2,.5,1,'DDR3_Die_Input_Eye_Diagram, Volts',59.5,23),valY(1,0,30,5,0,'mag(FS_Kintex_7_SSTL15), mV',56.5,21),valY(2,-10,30,5,0,'Kintex_7_SSTL15_Current, mA',59.5,23),valY(3,0,.7,.1,1,'mag(FS_Kirtex_7_SSTL15_Current), mA',56.5,21)],
 series};
const chart=echarts.init(document.getElementById('c'),null,{renderer:'canvas'});
chart.setOption(option);
</script></body></html>
